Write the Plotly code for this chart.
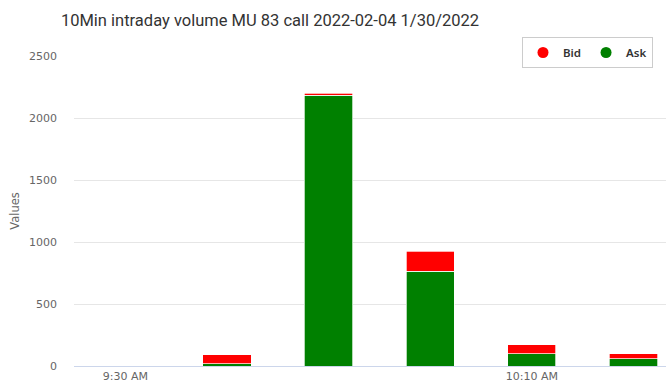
import plotly.graph_objects as go

times = ["2022-02-04 09:40", "2022-02-04 09:50", "2022-02-04 10:00", "2022-02-04 10:10", "2022-02-04 10:20"]
ask = [20, 2185, 766, 99, 59]
bid = [71, 16, 160, 73, 40]
tick_times = ["2022-02-04 09:30", "2022-02-04 10:10"]
tick_text = ["9:30 AM", "10:10 AM"]
y_ticks = [0, 500, 1000, 1500, 2000, 2500]

FONT = "DejaVu Sans"
bar_w = 4.75 * 60 * 1000

fig = go.Figure()
fig.add_trace(go.Bar(x=times, y=ask, name="Ask", marker=dict(color="#008000", line=dict(color="#ffffff", width=0.7)),
                     width=bar_w, showlegend=False))
fig.add_trace(go.Bar(x=times, y=bid, name="Bid", marker=dict(color="#ff0000", line=dict(color="#ffffff", width=0.7)),
                     width=bar_w, showlegend=False))
# legend entries with round symbols
fig.add_trace(go.Scatter(x=[None], y=[None], mode="markers", name="Bid",
                         marker=dict(color="#ff0000", size=11, symbol="circle")))
fig.add_trace(go.Scatter(x=[None], y=[None], mode="markers", name="Ask",
                         marker=dict(color="#008000", size=11, symbol="circle")))

fig.update_layout(
    width=666, height=389,
    margin=dict(l=74, r=0, t=56, b=23),
    barmode="stack",
    plot_bgcolor="#ffffff", paper_bgcolor="#ffffff",
    font=dict(family=FONT, color="#666666", size=11),
    title=dict(text="10Min intraday volume MU 83 call 2022-02-04 1/30/2022",
               x=270/666, xanchor="center", y=1-20/389, yanchor="middle",
               font=dict(family="Roboto", size=16.5, color="#333333")),
    legend=dict(orientation="h", x=(653-74)/592, xanchor="right", y=1+(56-37)/310, yanchor="top",
                bgcolor="#ffffff", bordercolor="#cccccc", borderwidth=1,
                font=dict(family="Noto Sans", size=11.5, color="#333333", weight=600), traceorder="normal",
                itemwidth=30, tracegroupgap=0),
    xaxis=dict(type="date", range=["2022-02-04 09:24:57", "2022-02-04 10:23:12"],
               tickmode="array", tickvals=tick_times, ticktext=tick_text,
               showgrid=False, showline=True, linecolor="#ccd6eb", linewidth=1,
               ticks="", tickfont=dict(size=11, color="#666666"), zeroline=False),
    yaxis=dict(range=[0, 2500], tickmode="array", tickvals=y_ticks,
               showgrid=True, gridcolor="#e6e6e6", gridwidth=1, zeroline=False,
               tickfont=dict(size=11, color="#666666"), ticks="", ticklabelstandoff=16,
               title=dict(text="Values", font=dict(size=11.5, color="#666666"), standoff=6)),
)

fig.write_html("out.html")
